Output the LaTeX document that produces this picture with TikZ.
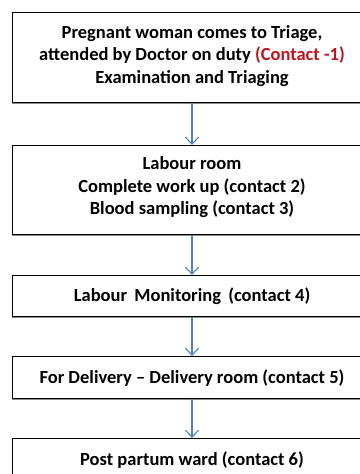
\documentclass[tikz,border=0pt]{standalone}
\usepackage{fontspec}
\setmainfont{Carlito}
\usetikzlibrary{arrows.meta,shadows}
\definecolor{flowblue}{RGB}{79,129,189}
\definecolor{contactred}{RGB}{192,20,30}
\tikzset{
  stagebox/.style={draw=black, line width=1.3pt, fill=white, rectangle,
    minimum width=359pt, align=center, anchor=north, inner sep=0pt,
    font=\fontsize{18.5}{22.5}\selectfont\bfseries,
    drop shadow={shadow xshift=-1pt, shadow yshift=-1.2pt, fill=black!45, opacity=1}},
  flow/.style={draw=flowblue, line width=1.1pt, -{Straight Barb[length=7pt,width=13pt,line width=1.1pt]}}
}
\begin{document}
\begin{tikzpicture}[x=1pt,y=1pt]
\useasboundingbox (0,0) rectangle (359,-474);
\fill[white] (0,0) rectangle (359,-474);
\node[stagebox, minimum height=90pt] (triage) at (192,-12)
  {Pregnant woman comes to Triage,\\
   attended by Doctor on duty \textcolor{contactred}{(Contact -1)}\\
   Examination and Triaging\\[-16pt]};
\node[stagebox, minimum height=89pt] (labour) at (192,-145)
  {Labour room\\ Complete work up (contact 2)\\ Blood sampling (contact 3)\\[-14pt]};
\node[stagebox, minimum height=41pt] (monitor) at (192,-275)
  {Labour\, Monitoring\, (contact 4)};
\node[stagebox, minimum height=42pt] (delivery) at (192,-356)
  {For Delivery -- Delivery room (contact 5)};
\node[stagebox, minimum height=42pt] (postpartum) at (192,-438)
  {Post partum ward (contact 6)};
\draw[flow] (triage.south) -- (labour.north);
\draw[flow] (labour.south) -- (monitor.north);
\draw[flow] (monitor.south) -- (delivery.north);
\draw[flow] (delivery.south) -- (postpartum.north);
\end{tikzpicture}
\end{document}
